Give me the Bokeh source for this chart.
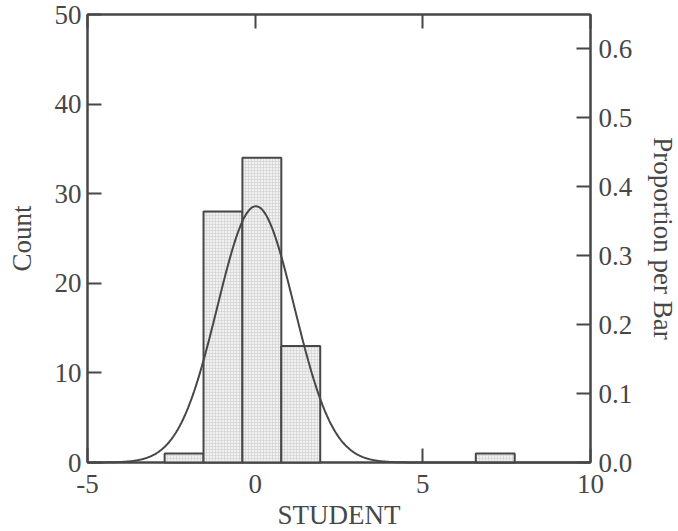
import numpy as np
from bokeh.plotting import figure
from bokeh.models import LinearAxis, Range1d, FixedTicker, PrintfTickFormatter
from bokeh.embed import file_html
from bokeh.resources import INLINE

# Histogram of studentized residuals
bin_left = [-2.70, -1.54, -0.38, 0.78, 6.58]
bin_right = [-1.54, -0.38, 0.78, 1.94, 7.74]
counts = [1, 28, 34, 13, 1]
total = sum(counts)

# Fitted normal curve (count scale)
curve_mean = 0.02
curve_sd = 1.15
curve_peak = 28.6

count_ticks = [0, 10, 20, 30, 40, 50]
prop_ticks = [0.0, 0.1, 0.2, 0.3, 0.4, 0.5, 0.6]
x_ticks = [-5, 0, 5, 10]

INK = "#474747"
FONT = "Liberation Serif"
FS = "27px"

p = figure(frame_width=503, frame_height=448,
           min_border_left=87, min_border_right=88,
           min_border_top=14, min_border_bottom=69,
           x_range=Range1d(-5, 10), y_range=Range1d(0, 50),
           output_backend="svg", toolbar_location=None,
           background_fill_color="white", border_fill_color="white")
p.grid.visible = False
p.outline_line_color = INK
p.outline_line_width = 2

p.extra_y_ranges = {"prop": Range1d(0, 50 / total)}

def style(ax, ticks, fmt):
    ax.ticker = FixedTicker(ticks=ticks)
    ax.formatter = PrintfTickFormatter(format=fmt)
    ax.axis_line_color = INK
    ax.axis_line_width = 2
    ax.major_tick_line_color = INK
    ax.major_tick_line_width = 2
    ax.major_tick_in = 14
    ax.major_tick_out = 0
    ax.minor_tick_line_color = None
    ax.major_label_text_font = FONT
    ax.major_label_text_font_size = FS
    ax.major_label_text_color = INK
    ax.axis_label_text_font = FONT
    ax.axis_label_text_font_size = FS
    ax.axis_label_text_font_style = "normal"
    ax.axis_label_text_color = INK

style(p.xaxis[0], x_ticks, "%d")
p.xaxis[0].axis_label = "STUDENT"
p.xaxis[0].major_label_standoff = 12
p.xaxis[0].axis_label_standoff = 4

style(p.yaxis[0], count_ticks, "%d")
p.yaxis[0].axis_label = "Count"
p.yaxis[0].major_label_standoff = 6
p.yaxis[0].axis_label_standoff = 15

right = LinearAxis(y_range_name="prop", axis_label="Proportion per Bar")
style(right, prop_ticks, "%.1f")
right.major_label_standoff = 8
right.axis_label_standoff = 13
p.add_layout(right, "right")

top = LinearAxis()
style(top, x_ticks, "%d")
top.major_label_text_font_size = "0px"
top.major_label_text_color = None
p.add_layout(top, "above")

p.quad(left=bin_left, right=bin_right, bottom=0, top=counts,
       fill_color="#f1f1f1", line_color=INK, line_width=2,
       hatch_pattern="+", hatch_scale=3, hatch_color="#cfcfcf",
       hatch_weight=0.6, level="annotation")

xs = np.linspace(-5, 10, 600)
ys = curve_peak * np.exp(-0.5 * ((xs - curve_mean) / curve_sd) ** 2)
p.line(xs, ys, line_color=INK, line_width=2, level="annotation")

open("out.html", "w").write(file_html(p, INLINE))
